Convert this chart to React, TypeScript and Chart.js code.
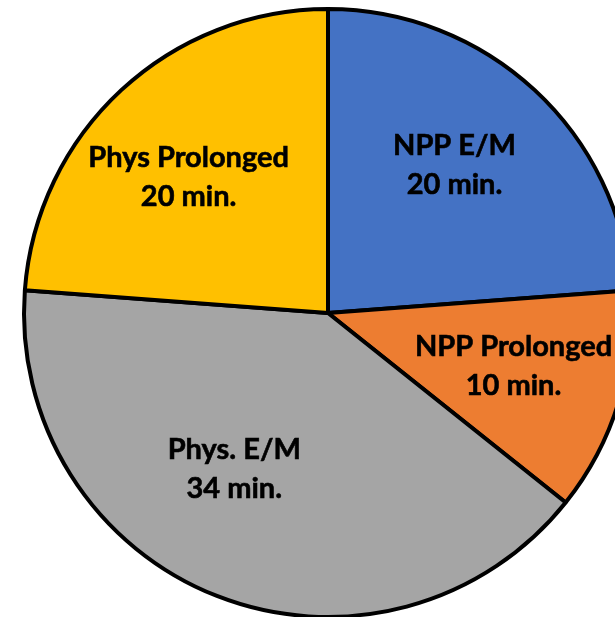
import React, { useEffect, useRef } from "react";
import { Chart, registerables } from "chart.js";

Chart.register(...registerables);

const categories = ["NPP E/M", "NPP Prolonged", "Phys. E/M", "Phys Prolonged"];
const minutes = [20, 10, 34, 20];
const colors = ["#4472C4", "#ED7D31", "#A5A5A5", "#FFC000"];

// label placement style: radial fraction and angular shift (degrees) per slice
const labelRadiusFrac = [0.64, 0.635, 0.6, 0.64];
const labelAngleShift = [-2.3, -1.1, 9.5, -2.9];

const labelPlugin = {
  id: "sliceLabels",
  afterDatasetsDraw(chart: any) {
    const ctx = chart.ctx;
    const meta = chart.getDatasetMeta(0);
    ctx.save();
    ctx.fillStyle = "#000";
    ctx.strokeStyle = "#000";
    ctx.lineWidth = 0.6;
    ctx.font = "bold 29px Lato, 'Open Sans', sans-serif";
    ctx.textAlign = "center";
    ctx.textBaseline = "middle";
    meta.data.forEach((arc: any, i: number) => {
      const p = arc.getProps(["x", "y", "startAngle", "endAngle", "outerRadius"], true);
      const mid = (p.startAngle + p.endAngle) / 2 + (labelAngleShift[i] * Math.PI) / 180;
      const d = p.outerRadius * labelRadiusFrac[i];
      const cx = p.x + Math.cos(mid) * d;
      const cy = p.y + Math.sin(mid) * d;
      const l1 = categories[i];
      const l2 = minutes[i] + " min.";
      ctx.fillText(l1, cx, cy - 19.5);
      ctx.strokeText(l1, cx, cy - 19.5);
      ctx.fillText(l2, cx, cy + 19.5);
      ctx.strokeText(l2, cx, cy + 19.5);
    });
    ctx.restore();
  },
};

export default function App() {
  const ref = useRef<HTMLCanvasElement>(null);
  useEffect(() => {
    if (!ref.current) return;
    const chart = new Chart(ref.current, {
      type: "pie",
      data: {
        labels: categories,
        datasets: [
          {
            data: minutes,
            backgroundColor: colors,
            borderColor: "#000",
            borderWidth: 4,
          },
        ],
      },
      options: {
        animation: false,
        responsive: false,
        maintainAspectRatio: false,
        layout: { padding: 7 },
        plugins: {
          legend: { display: false },
          tooltip: { enabled: false },
        },
      },
      plugins: [labelPlugin],
    });
    return () => chart.destroy();
  }, []);
  return (
    <div
      style={{
        position: "fixed",
        left: 0,
        top: 0,
        width: 615,
        height: 617,
        overflow: "hidden",
        background: "#fff",
      }}
    >
      <canvas
        ref={ref}
        width={656}
        height={626}
        style={{ position: "absolute", left: 0, top: 0, width: 656, height: 626 }}
      />
    </div>
  );
}
